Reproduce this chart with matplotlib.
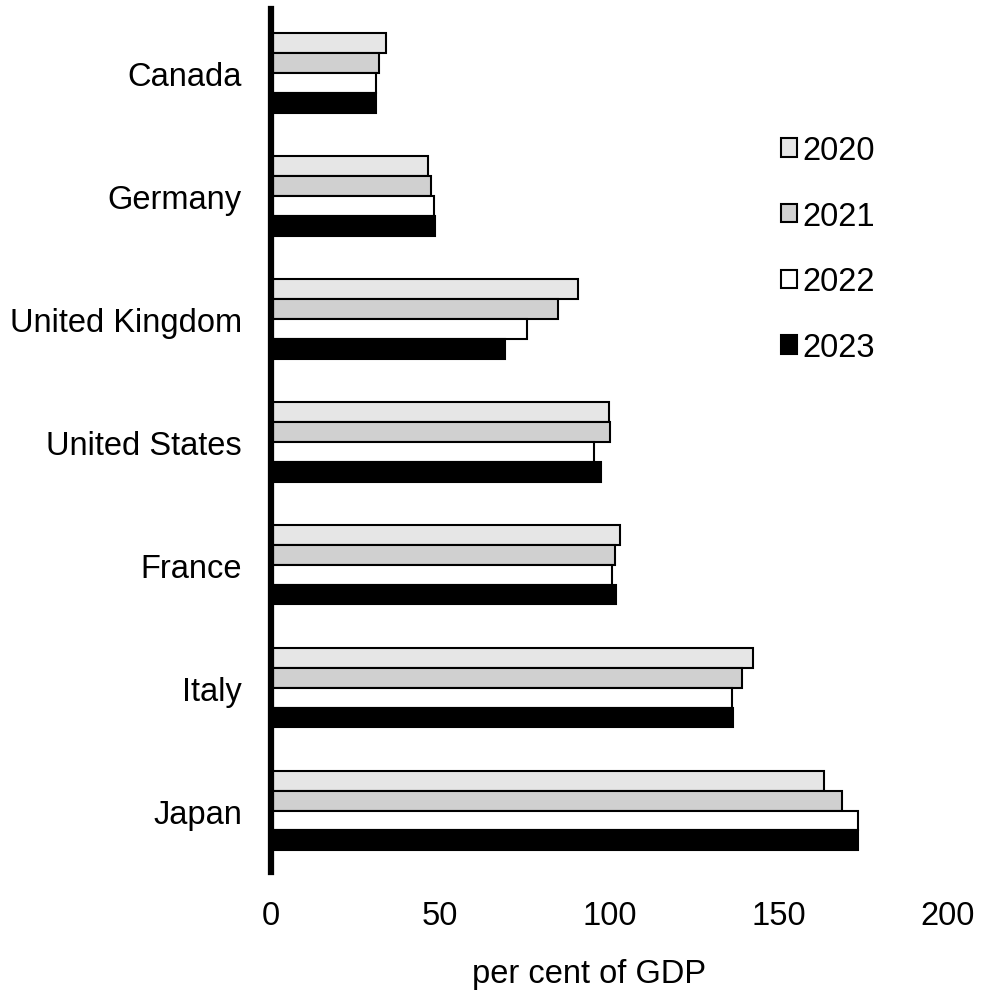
import matplotlib.pyplot as plt
import numpy as np

plt.rcParams['font.family'] = ['Liberation Sans', 'DejaVu Sans']

countries = ['Canada', 'Germany', 'United Kingdom', 'United States', 'France', 'Italy', 'Japan']
years = ['2020', '2021', '2022', '2023']
debt_2020 = [34.0, 46.3, 90.7, 99.8, 103.0, 142.5, 163.4]
debt_2021 = [32.0, 47.4, 84.8, 100.3, 101.7, 139.1, 168.8]
debt_2022 = [30.9, 48.1, 75.7, 95.3, 100.9, 136.1, 173.6]
debt_2023 = [30.9, 48.5, 69.2, 97.6, 101.8, 136.6, 173.6]
series = [debt_2020, debt_2021, debt_2022, debt_2023]
colors = ['#e6e6e6', '#d0d0d0', '#ffffff', '#000000']

fig = plt.figure(figsize=(10.04, 10.04), dpi=100)
ax = fig.add_axes([0.27, 0.1305, 0.674, 0.8595])

y = np.arange(len(countries))
h = 0.162
for i, (vals, col) in enumerate(zip(series, colors)):
    ax.barh(y + (i - 1.5) * h, vals, height=h, color=col,
            edgecolor='black', linewidth=1.5, label=years[i])

ax.set_ylim(6.5, -0.52)
ax.set_xlim(0, 200)
ax.set_yticks(y)
ax.set_yticklabels(countries, fontsize=23.5)
ax.set_xticks([0, 50, 100, 150, 200])
ax.tick_params(axis='y', length=0, pad=21)
ax.tick_params(axis='x', length=0, pad=20, labelsize=23.5)
ax.set_xlabel('per cent of GDP', fontsize=23.5, labelpad=22)
ax.xaxis.set_label_coords(0.47, -0.1)

for s in ['top', 'right', 'bottom']:
    ax.spines[s].set_visible(False)
ax.spines['left'].set_linewidth(4.5)
ax.spines['left'].set_zorder(5)

ax.legend(loc='upper left', bbox_to_anchor=(0.734, 0.869), frameon=False,
          fontsize=23.5, handlelength=0.49, handleheight=0.49,
          handletextpad=0.18, labelspacing=1.06, borderaxespad=0)

fig.savefig('out.png', dpi=100)
